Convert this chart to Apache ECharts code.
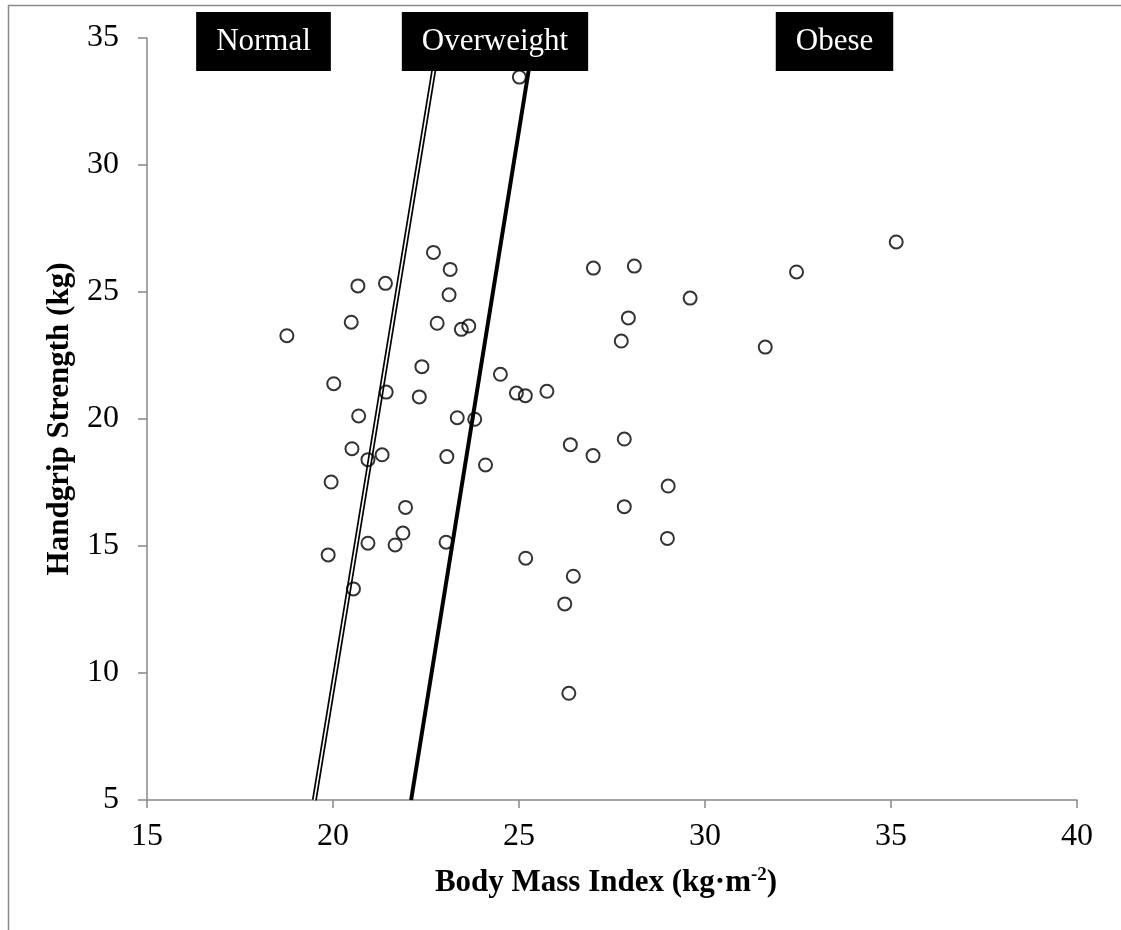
<!DOCTYPE html>
<html>
<head>
<meta charset="utf-8">
<script src="https://cdn.jsdelivr.net/npm/echarts@6/dist/echarts.min.js"></script>
<style>
html,body{margin:0;padding:0;background:#fff;}
#chart{width:1121px;height:930px;}
</style>
</head>
<body>
<div id="chart"></div>
<script>
// Data
const bmi = [18.76,20.67,21.41,22.70,23.15,23.12,20.49,22.80,23.45,23.65,22.39,20.02,21.43,22.32,24.50,24.93,25.17,25.75,20.69,23.34,23.81,26.38,20.51,20.94,21.32,23.06,24.10,19.95,21.95,26.99,27.83,21.88,21.67,20.94,19.87,23.04,25.18,27.83,26.46,20.55,26.23,26.34,25.01,27.00,28.10,27.94,27.75,29.60,31.62,32.46,35.14,29.01,28.99];
const hgs = [23.28,25.24,25.34,26.56,25.89,24.89,23.81,23.77,23.53,23.66,22.06,21.39,21.06,20.87,21.76,21.02,20.92,21.09,20.12,20.05,19.99,18.99,18.83,18.40,18.59,18.52,18.19,17.52,16.52,18.56,19.21,15.51,15.04,15.11,14.65,15.15,14.52,16.55,13.81,13.31,12.72,9.20,33.46,25.94,26.02,23.98,23.07,24.76,22.83,25.79,26.97,17.36,15.30];
const normalCut = [[19.5, 5], [22.85, 35]];
const overweightCut = [[22.1, 5], [25.4, 35]];
const xTicks = {min: 15, max: 40, interval: 5};
const yTicks = {min: 5, max: 35, interval: 5};
const categoryLabels = ['Normal', 'Overweight', 'Obese'];
const xName = 'Body Mass Index (kg·m';
const xNameSup = '-2';
const yName = 'Handgrip Strength (kg)';

const FONT = "'Liberation Serif','Times New Roman',serif";
const points = bmi.map((b, i) => [b, hgs[i]]);

const chart = echarts.init(document.getElementById('chart'), null, {renderer: 'canvas'});

const boxStyle = (t) => ({
  text: t, fill: '#fff', font: '31px ' + FONT,
  backgroundColor: '#000', padding: [14, 20, 14, 20],
  align: 'center', verticalAlign: 'middle'
});

chart.setOption({
  animation: false,
  backgroundColor: '#fff',
  grid: {left: 147, top: 38, width: 930, height: 762, containLabel: false},
  xAxis: {
    type: 'value', min: xTicks.min, max: xTicks.max, interval: xTicks.interval,
    splitLine: {show: false},
    axisLine: {show: true, lineStyle: {color: '#888', width: 1.5}},
    axisTick: {show: true, length: 8, lineStyle: {color: '#888', width: 1.5}},
    axisLabel: {color: '#000', fontFamily: FONT, fontSize: 32, margin: 21},
    name: '{a|' + xName + '}{s|' + xNameSup + '}{a|)}',
    nameLocation: 'middle', nameGap: 66,
    nameTextStyle: {
      padding: [0, 12, 0, 0],
      rich: {
        a: {fontFamily: FONT, fontSize: 31, fontWeight: 'bold', color: '#000', lineHeight: 34},
        s: {fontFamily: FONT, fontSize: 19, fontWeight: 'bold', color: '#000', verticalAlign: 'top', lineHeight: 20}
      }
    }
  },
  yAxis: {
    type: 'value', min: yTicks.min, max: yTicks.max, interval: yTicks.interval,
    splitLine: {show: false},
    axisLine: {show: true, lineStyle: {color: '#888', width: 1.5}},
    axisTick: {show: true, length: 9, lineStyle: {color: '#888', width: 1.5}},
    axisLabel: {color: '#000', fontFamily: FONT, fontSize: 32, margin: 28},
    name: yName, nameLocation: 'middle', nameGap: 72, nameRotate: 90,
    nameTextStyle: {fontFamily: FONT, fontSize: 31, fontWeight: 'bold', color: '#000'}
  },
  series: [
    {type: 'line', data: normalCut, symbol: 'none', lineStyle: {color: '#000', width: 5}, z: 2, silent: true},
    {type: 'line', data: normalCut, symbol: 'none', lineStyle: {color: '#fff', width: 1.6}, z: 3, silent: true},
    {type: 'line', data: overweightCut, symbol: 'none', lineStyle: {color: '#000', width: 4}, z: 2, silent: true},
    {type: 'scatter', data: points, symbol: 'circle', symbolSize: 13,
     itemStyle: {color: 'rgba(0,0,0,0)', borderColor: '#000', borderWidth: 2}, z: 5}
  ],
  graphic: [
    {type: 'rect', shape: {x: 8.5, y: 5.5, width: 1300, height: 1100}, style: {fill: 'none', stroke: '#8c8c8c', lineWidth: 1.5}, z: 0, silent: true},
    {type: 'text', x: 263.5, y: 41.5, style: boxStyle(categoryLabels[0]), z: 100},
    {type: 'text', x: 495, y: 41.5, style: boxStyle(categoryLabels[1]), z: 100},
    {type: 'text', x: 834.5, y: 41.5, style: boxStyle(categoryLabels[2]), z: 100}
  ]
});
</script>
</body>
</html>
